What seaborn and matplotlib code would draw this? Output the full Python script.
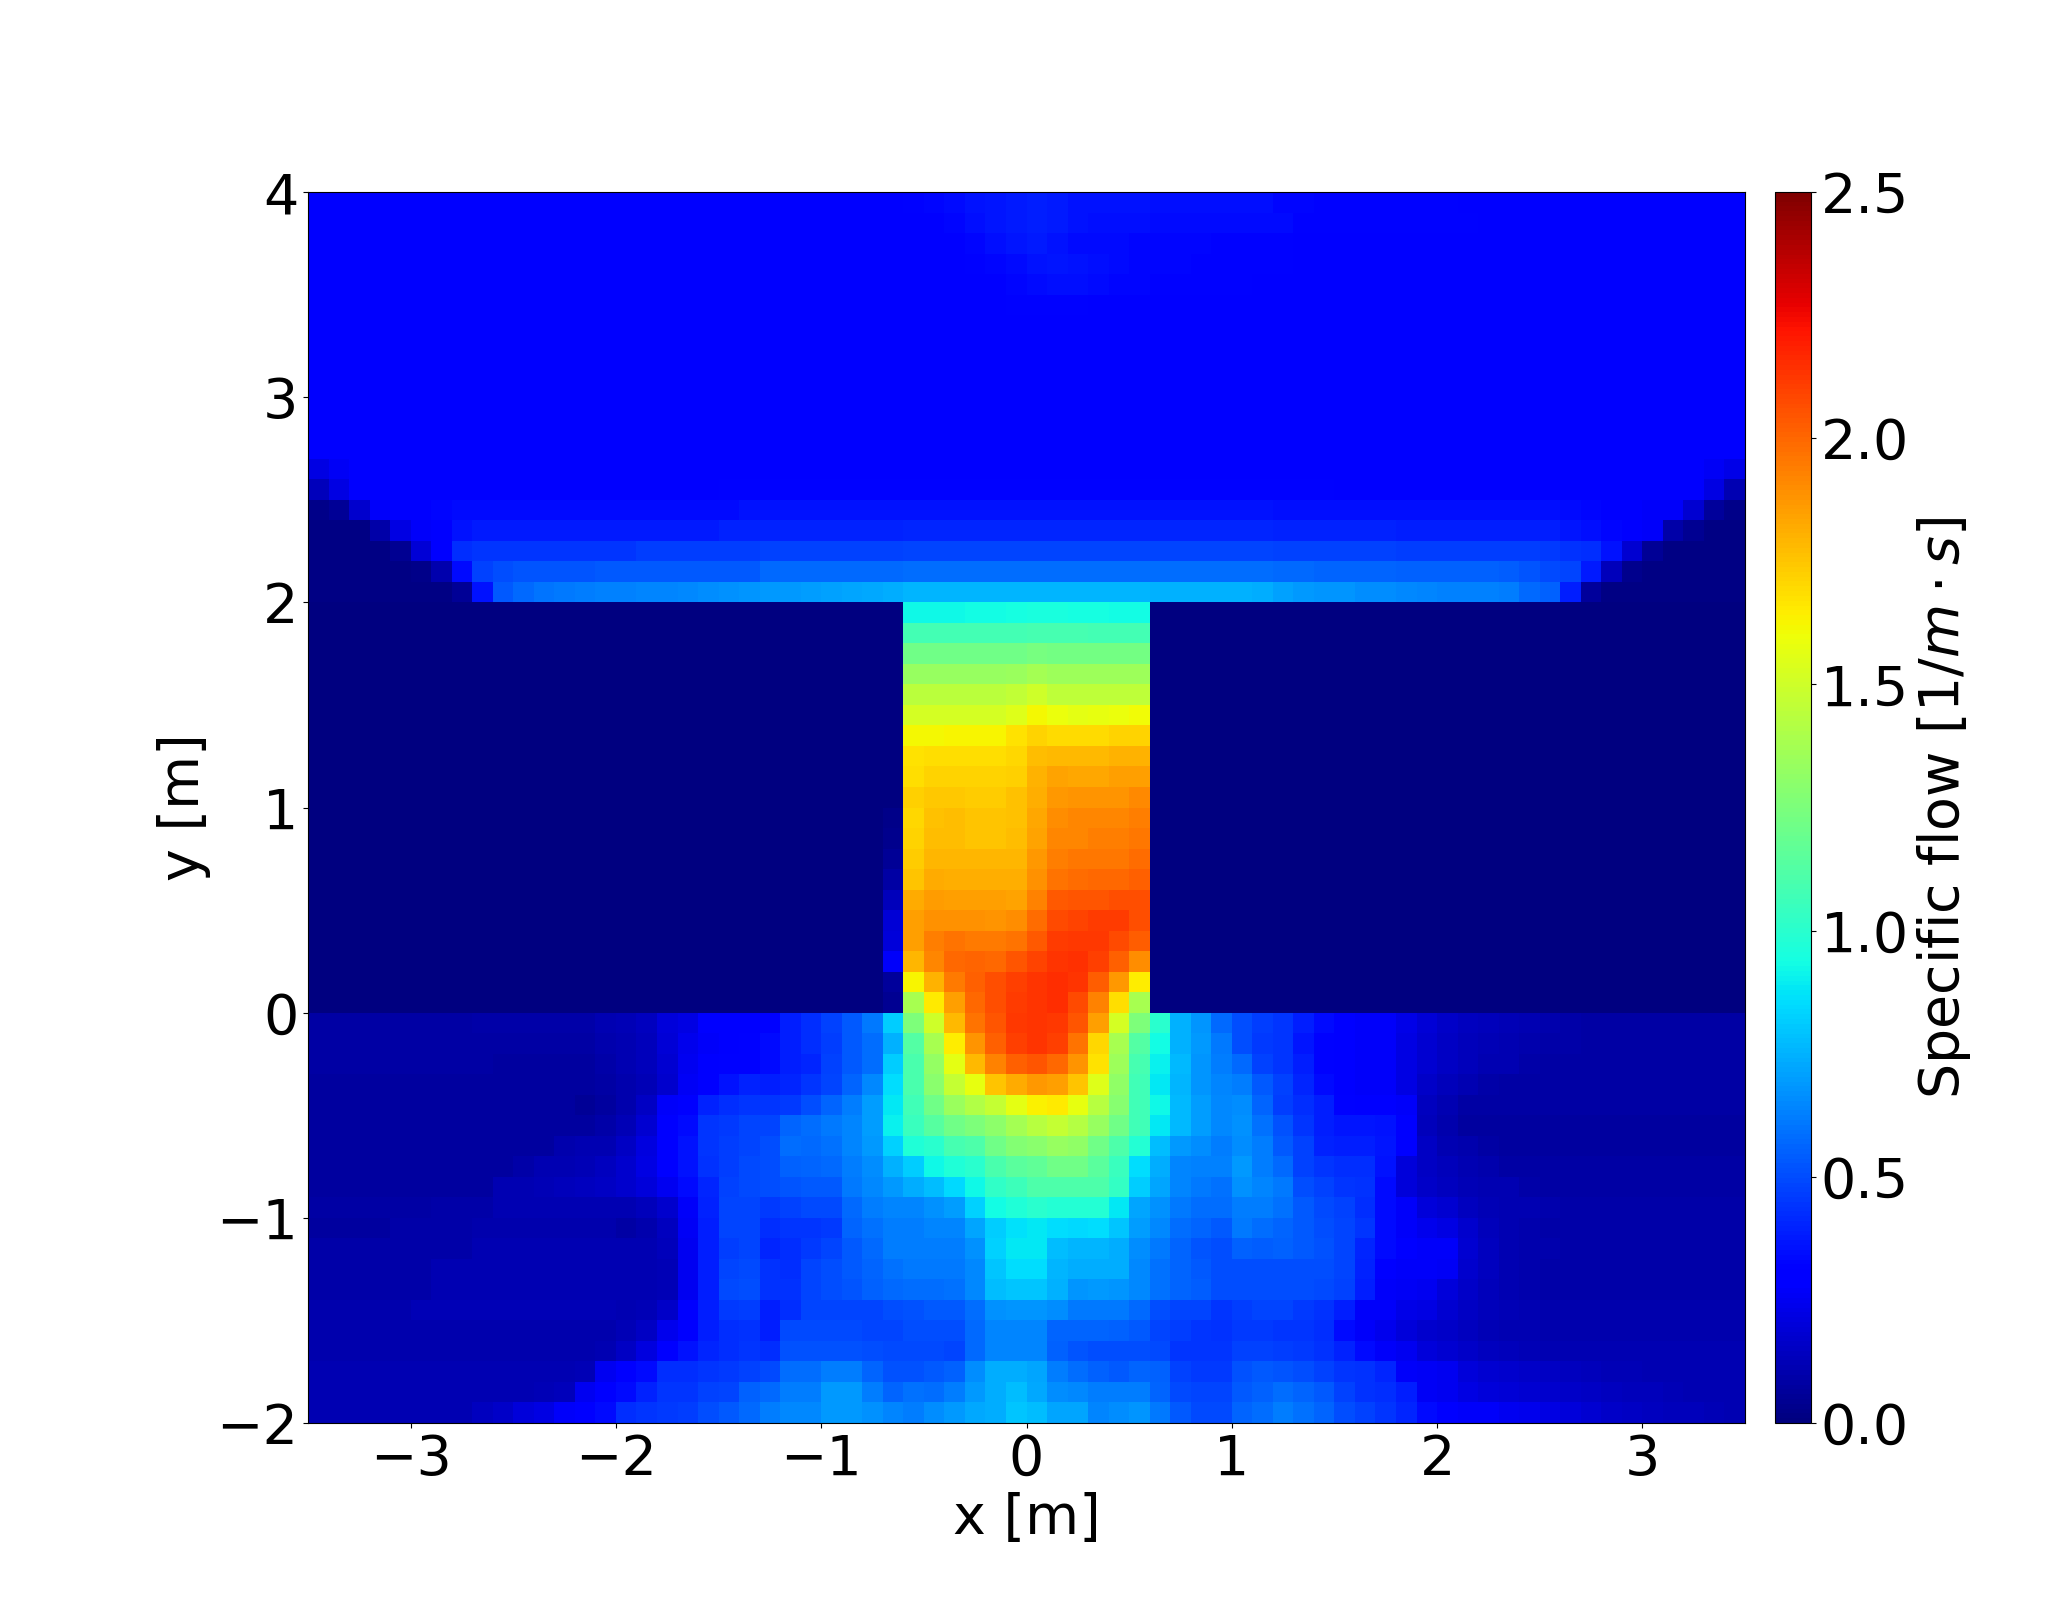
import numpy as np
import matplotlib
matplotlib.use('Agg')
import matplotlib.pyplot as plt
import seaborn as sns

# tick values in metres, the grid is 0.1 m
x_ticks = [-3, -2, -1, 0, 1, 2, 3]
y_ticks = [-2, -1, 0, 1, 2, 3, 4]
cbar_ticks = [0.0, 0.5, 1.0, 1.5, 2.0, 2.5]

# upper room, y = 4.0 down to y = 2.0, all 70 columns
upper_room = [
    [.28]*29 + [.32,.33,.34,.36,.37,.38,.39,.38,.36,.36,.36,.36] + [.35]*6 + [.33]*2 + [.32]*7 + [.28]*14,
    [.28]*30 + [.31,.33,.35,.37,.38,.39,.38,.36,.35,.35,.35] + [.34]*7 + [.32]*9 + [.28]*13,
    [.28]*32 + [.33,.35,.37,.38,.36,.34,.34,.34,.33,.33,.33,.33,.32,.32,.32,.32] + [.28]*22,
    [.28]*32 + [.32,.33,.34,.36,.37,.36,.35,.34,.33,.33,.33,.32,.32,.32,.32,.32] + [.28]*22,
    [.28]*34 + [.33,.34,.35,.35,.34,.33,.33,.32,.32,.32,.32,.32] + [.28]*24,
    [.28]*33 + [.31,.32,.32,.32,.32,.31] + [.28]*31,
    [.28]*70,
    [.28]*70,
    [.28]*70,
    [.28]*70,
    [.28]*70,
    [.28]*70,
    [.28]*70,
    [.22,.26] + [.28]*66 + [.26,.23],
    [.13,.22] + [.28]*18 + [.32]*30 + [.3]*18 + [.22,.11],
    [.02,.05,.17,.27,.28,.29,.33] + [.34]*14 + [.36]*26 + [.35]*14 + [.34,.33,.31,.28,.27,.27,.18,.06,.02],
    [.01,.01,.01,.09,.22,.27,.29,.36] + [.38]*12 + [.4]*9 + [.41]*18 + [.4]*6 + [.39]*8 + [.37,.35,.33,.29,.27,.09,.04,.01,.01],
    [.01]*4 + [.04,.19,.28,.42] + [.44]*8 + [.46]*6 + [.47]*7 + [.48]*18 + [.47]*6 + [.46]*7 + [.45,.43,.42,.36,.18,.05] + [.01]*4,
    [.01]*5 + [.02,.1,.34,.47,.5,.52,.52,.52,.52] + [.53]*8 + [.57]*7 + [.58]*18 + [.57,.57,.56,.56,.56,.56,.55,.55,.55,.55,.55,.54,.52,.49,.48,.38,.13,.03] + [.01]*5,
    [.01]*7 + [.05,.36,.53,.57,.6,.61,.62,.63,.63,.64,.64,.65,.66,.67,.68,.69,.69,.7,.71,.72,.73,.74] + [.76]*12 + [.75]*5 + [.74,.71,.69,.68,.68,.66,.66,.65,.64,.63,.63,.63,.62,.57,.55,.385,.06] + [.01]*7,
]

# corridor, y = 2.0 down to y = 0.0, x = -0.6 to 0.6
corridor = [
    [.92,.92,.92,.93,.93,.94,.95,.95,.94,.94,.93,.93],
    [1.08,1.08,1.08,1.08,1.08,1.08,1.09,1.09,1.09,1.08,1.08,1.08],
    [1.22,1.22,1.22,1.22,1.22,1.22,1.24,1.23,1.23,1.23,1.23,1.23],
    [1.33,1.33,1.33,1.33,1.33,1.34,1.37,1.35,1.35,1.35,1.35,1.35],
    [1.44,1.44,1.44,1.44,1.44,1.46,1.5,1.45,1.45,1.45,1.45,1.45],
    [1.52,1.52,1.52,1.52,1.52,1.55,1.62,1.59,1.57,1.58,1.59,1.61],
    [1.62,1.62,1.63,1.63,1.63,1.67,1.71,1.69,1.69,1.69,1.71,1.71],
    [1.67,1.68,1.68,1.68,1.68,1.7,1.77,1.78,1.78,1.78,1.8,1.8],
    [1.68,1.71,1.71,1.71,1.71,1.72,1.8,1.84,1.83,1.83,1.85,1.85],
    [1.72,1.74,1.74,1.73,1.73,1.76,1.81,1.87,1.88,1.88,1.88,1.91],
    [1.7,1.76,1.77,1.75,1.75,1.76,1.83,1.9,1.92,1.92,1.92,1.94],
    [1.71,1.77,1.77,1.75,1.75,1.77,1.84,1.92,1.92,1.94,1.94,1.96],
    [1.73,1.79,1.79,1.79,1.79,1.79,1.87,1.94,1.96,1.96,1.96,1.99],
    [1.75,1.82,1.81,1.81,1.81,1.81,1.89,1.97,1.99,2.0,2.0,2.02],
    [1.82,1.86,1.85,1.85,1.85,1.84,1.93,2.04,2.05,2.05,2.07,2.07],
    [1.85,1.89,1.89,1.89,1.88,1.9,1.99,2.08,2.09,2.11,2.11,2.07],
    [1.85,1.94,1.97,1.95,1.95,1.97,2.04,2.11,2.12,2.12,2.08,2.03],
    [1.79,1.92,2.0,2.01,2.0,2.05,2.09,2.13,2.14,2.1,2.02,1.9],
    [1.63,1.8,1.95,2.02,2.07,2.1,2.13,2.15,2.13,2.03,1.87,1.65],
    [1.38,1.66,1.85,2.0,2.07,2.11,2.13,2.15,2.08,1.93,1.68,1.38],
]

# the column just left of the corridor, same rows
corridor_edge = [.0,.0,.0,.0,.0,.0,.0,.0,.0,.0,.02,.03,.05,.08,.135,.19,.2,.27,.06,.04]

# lower room, y = 0.0 down to y = -2.0, x = -3.5 to -1.3
lower_left = [
    [.08]*8 + [.09]*6 + [.11,.12,.14,.2,.22,.28,.29,.29],
    [.08]*14 + [.1,.11,.13,.19,.24,.27,.29,.32],
    [.08]*9 + [.07]*5 + [.09,.11,.13,.18,.25,.29,.32,.32],
    [.07]*14 + [.08,.1,.12,.17,.26,.29,.36,.4],
    [.07]*13 + [.05,.07,.1,.15,.27,.29,.4,.42,.44],
    [.07]*13 + [.07,.09,.12,.18,.29,.34,.44,.45,.48],
    [.07]*12 + [.1,.11,.11,.15,.21,.29,.36,.44,.46,.48],
    [.07]*10 + [.09,.11,.11,.12,.14,.17,.22,.29,.36,.43,.46,.49],
    [.07]*9 + [.11,.11,.12,.13,.14,.15,.17,.2,.25,.34,.41,.47,.49],
    [.08]*6 + [.09]*3 + [.11,.11,.11,.11,.11,.11,.11,.13,.17,.27,.4,.48,.48],
    [.07]*4 + [.09]*4 + [.1]*7 + [.08,.1,.14,.26,.39,.48,.48],
    [.09]*8 + [.11]*9 + [.13,.25,.39,.46,.48],
    [.09]*6 + [.11]*11 + [.12,.25,.39,.48,.49],
    [.09]*6 + [.11]*11 + [.12,.25,.39,.49,.5],
    [.1]*5 + [.12]*10 + [.11,.12,.16,.29,.39,.45,.46],
    [.1]*15 + [.12,.15,.24,.29,.39,.42,.43],
    [.1]*14 + [.11,.15,.21,.29,.36,.41,.42,.44],
    [.11]*13 + [.12,.25,.29,.34,.42,.42,.44,.45,.47],
    [.11]*11 + [.12,.13,.25,.29,.34,.4,.44,.44,.47,.48,.55],
    [.11]*8 + [.14,.16,.2,.22,.27,.29,.34,.42,.44,.45,.46,.5,.53,.57],
]

# lower room, x = -1.3 to 1.0
lower_mid = [
    [.32,.39,.42,.47,.53,.61,.82,1.25,1.5,1.78,1.97,2.05,2.12,2.13,2.12,2.05,1.85,1.52,1.25,1.0,.75,.68,.57],
    [.34,.39,.42,.46,.53,.58,.75,1.13,1.38,1.65,1.88,2.02,2.1,2.13,2.1,1.97,1.7,1.38,1.13,.93,.75,.69,.61],
    [.34,.39,.41,.47,.53,.58,.82,1.1,1.32,1.57,1.78,1.93,2.02,2.05,2.0,1.88,1.67,1.35,1.09,.9,.77,.68,.62],
    [.39,.41,.44,.48,.56,.65,.85,1.1,1.29,1.47,1.58,1.75,1.82,1.87,1.85,1.75,1.55,1.31,1.07,.88,.76,.68,.64],
    [.44,.45,.5,.56,.62,.7,.88,1.07,1.22,1.34,1.41,1.47,1.57,1.64,1.66,1.58,1.43,1.28,1.07,.92,.77,.7,.65],
    [.48,.56,.58,.61,.64,.7,.9,1.05,1.14,1.22,1.25,1.3,1.37,1.43,1.47,1.42,1.33,1.22,1.07,.88,.77,.7,.65],
    [.5,.58,.57,.59,.64,.69,.83,.97,1.0,1.09,1.11,1.22,1.27,1.29,1.33,1.31,1.22,1.11,.98,.78,.69,.66,.62],
    [.5,.55,.56,.57,.62,.66,.75,.82,.92,.97,1.0,1.1,1.15,1.17,1.22,1.22,1.15,1.05,.85,.74,.64,.63,.63],
    [.5,.52,.53,.53,.61,.65,.69,.74,.78,.84,.92,1.02,1.06,1.11,1.11,1.11,1.11,1.03,.82,.72,.64,.61,.59],
    [.45,.47,.49,.49,.57,.62,.64,.64,.67,.7,.83,.93,.97,1.0,.98,.98,.98,.88,.72,.67,.61,.58,.58],
    [.42,.44,.44,.45,.56,.59,.62,.62,.64,.64,.72,.82,.86,.88,.85,.84,.85,.8,.7,.65,.58,.56,.53],
    [.41,.42,.45,.48,.53,.57,.62,.62,.62,.62,.67,.83,.88,.88,.78,.76,.76,.74,.66,.61,.56,.52,.5],
    [.43,.42,.48,.5,.53,.56,.59,.61,.61,.61,.65,.8,.85,.85,.76,.74,.74,.74,.65,.59,.56,.53,.5],
    [.43,.43,.48,.5,.52,.55,.57,.58,.58,.59,.65,.78,.8,.8,.75,.68,.69,.68,.65,.59,.56,.54,.5],
    [.39,.42,.48,.48,.48,.48,.5,.51,.53,.53,.58,.67,.68,.68,.66,.61,.61,.61,.57,.5,.48,.48,.44],
    [.39,.49,.49,.49,.49,.48,.48,.5,.5,.5,.57,.64,.64,.64,.56,.56,.56,.55,.53,.48,.46,.44,.43],
    [.42,.51,.51,.51,.51,.5,.49,.49,.49,.48,.57,.64,.64,.64,.55,.52,.5,.5,.5,.49,.44,.44,.44],
    [.49,.58,.58,.62,.62,.56,.51,.51,.53,.55,.66,.74,.74,.72,.62,.58,.55,.53,.56,.55,.47,.45,.45],
    [.57,.62,.62,.69,.69,.62,.56,.59,.58,.62,.69,.74,.78,.73,.66,.65,.62,.62,.62,.56,.49,.48,.48],
    [.62,.65,.65,.69,.69,.67,.64,.62,.66,.69,.73,.74,.8,.78,.72,.72,.64,.66,.68,.61,.53,.49,.49],
]

# lower room, x = 1.0 to 3.5
lower_right = [
    [.5,.46,.44,.39,.34,.29,.27,.27,.23,.19,.16,.14,.13,.12,.11,.1,.09] + [.08]*8,
    [.5,.45,.44,.37,.32,.29,.27,.27,.22,.18,.15,.13,.12,.11,.1,.09,.09] + [.08]*8,
    [.57,.47,.44,.39,.32,.29,.27,.27,.22,.18,.15,.13,.11,.11,.09] + [.08]*10,
    [.62,.53,.47,.41,.34,.29,.27,.27,.22,.16,.13,.11,.09] + [.08]*12,
    [.66,.56,.46,.42,.39,.32,.29,.29,.27,.14,.11] + [.08]*14,
    [.67,.59,.51,.44,.39,.37,.37,.36,.29,.13,.1,.07,.07,.07] + [.07]*11,
    [.66,.62,.53,.47,.4,.39,.39,.37,.29,.15,.11,.1,.08] + [.07]*12,
    [.69,.62,.57,.47,.44,.42,.42,.36,.2,.15,.13,.11,.1] + [.08]*12,
    [.67,.64,.61,.5,.47,.44,.43,.34,.2,.16,.14,.12,.11,.11,.09] + [.08]*10,
    [.62,.62,.59,.53,.49,.47,.42,.34,.27,.2,.18,.14,.12,.11,.11,.1] + [.09]*9,
    [.61,.58,.56,.53,.5,.48,.44,.34,.27,.24,.22,.17,.13,.11,.1] + [.09]*10,
    [.55,.54,.55,.53,.51,.48,.41,.34,.29,.27,.27,.18,.14,.11,.1,.1] + [.09]*9,
    [.5,.5,.5,.5,.5,.48,.4,.29,.27,.27,.26,.17,.14,.11,.1] + [.09]*10,
    [.5,.5,.5,.5,.49,.47,.39,.27,.26,.25,.2,.16,.13,.11,.1] + [.09]*10,
    [.46,.48,.48,.45,.43,.39,.27,.27,.23,.22,.18,.15,.13,.12,.11] + [.1]*10,
    [.45,.45,.44,.44,.42,.34,.27,.24,.2,.17,.16,.14,.12,.11,.11] + [.1]*10,
    [.47,.47,.46,.45,.43,.4,.34,.27,.25,.2,.18,.16,.14,.13,.12] + [.11]*10,
    [.51,.53,.52,.5,.47,.44,.43,.41,.27,.26,.25,.2,.18,.17,.16,.15,.14,.13,.12,.12] + [.11]*5,
    [.53,.55,.58,.56,.53,.47,.43,.42,.39,.26,.25,.22,.2,.19,.18,.17,.16,.15,.14,.13,.13,.12,.11,.11,.11],
    [.56,.58,.62,.59,.56,.5,.47,.44,.41,.34,.29,.27,.27,.25,.24,.22,.2,.18,.16,.15,.14,.13,.13,.12,.11],
]


def tick_label(value):
    return str(value).replace('-', '\u2212')


# walls left and right of the corridor carry no flow
n_rows = len(corridor)
wall_left = np.zeros((n_rows, 28))
wall_right = np.zeros((n_rows, 29))
edge = np.array(corridor_edge).reshape(-1, 1)
middle = np.hstack([wall_left, edge, np.array(corridor), wall_right])
lower = np.hstack([np.array(lower_left), np.array(lower_mid), np.array(lower_right)])
flow = np.vstack([np.array(upper_room), middle, lower])

fig = plt.figure(figsize=(20.66, 16), dpi=100)
ax = fig.add_axes([308 / 2066, 1 - 1423 / 1600, 1437 / 2066, 1231 / 1600])
cax = fig.add_axes([1775 / 2066, 1 - 1423 / 1600, 36 / 2066, 1231 / 1600])

sns.heatmap(
    flow,
    cmap="jet",
    vmin=0,
    vmax=2.5,
    xticklabels=False,
    yticklabels=False,
    ax=ax,
    cbar_ax=cax,
)

# cells are 0.1 m wide, row 0 is the top of the room
ax.set_xticks([(v + 3.5) * 10 for v in x_ticks])
ax.set_xticklabels([tick_label(v) for v in x_ticks], rotation=0, fontsize=40)
ax.set_yticks([(4 - v) * 10 for v in y_ticks])
ax.set_yticklabels([tick_label(v) for v in y_ticks], rotation=0, fontsize=40)
ax.tick_params(length=3.5, width=0.8)
ax.set_xlabel("x [m]", fontsize=40)
ax.set_ylabel("y [m]", fontsize=40)
for spine in ax.spines.values():
    spine.set_visible(True)
    spine.set_linewidth(0.8)

cbar = ax.collections[0].colorbar
cbar.set_ticks(cbar_ticks)
cbar.set_ticklabels([f"{v:.1f}" for v in cbar_ticks])
cbar.ax.tick_params(labelsize=40, length=3.5, width=0.8)
cbar.set_label(r"Specific flow [$1/m \cdot s$]", fontsize=40)
cbar.outline.set_visible(True)
cbar.outline.set_linewidth(0.8)

fig.savefig("out.png", dpi=100)
